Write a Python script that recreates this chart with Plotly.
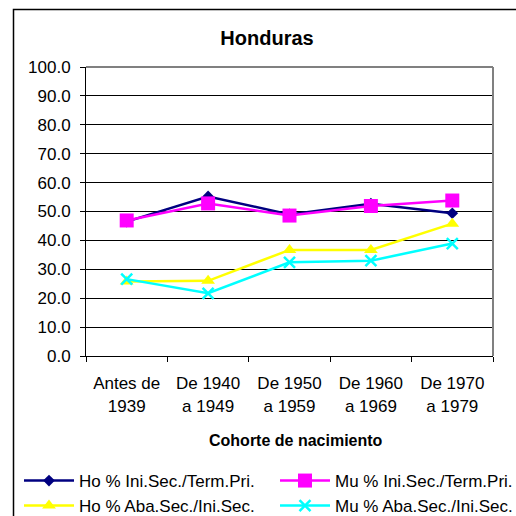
import plotly.graph_objects as go

categories = ["Antes de<br>1939", "De 1940<br>a 1949", "De 1950<br>a 1959", "De 1960<br>a 1969", "De 1970<br>a 1979"]
ho_ini = [46.5, 55.2, 49.0, 52.7, 49.4]
mu_ini = [46.9, 52.8, 48.6, 51.9, 53.8]
ho_aba = [25.8, 26.0, 36.7, 36.7, 45.8]
mu_aba = [26.6, 21.7, 32.4, 33.0, 38.9]
names = ["Ho % Ini.Sec./Term.Pri.", "Mu % Ini.Sec./Term.Pri.",
         "Ho % Aba.Sec./Ini.Sec.", "Mu % Aba.Sec./Ini.Sec."]
y_ticks = [0, 10, 20, 30, 40, 50, 60, 70, 80, 90, 100]

W, H = 516, 516
L, R, T, B = 86, 493, 67, 356

def px_x(p):
    return (p - L) / (R - L)

def px_y(p):
    return (B - p) / (B - T)

FONT = "Liberation Sans, Arial, sans-serif"
LW = 2.5

fig = go.Figure()
fig.add_trace(go.Scatter(x=categories, y=ho_ini, name=names[0], mode="lines+markers",
                         line=dict(color="#000080", width=LW),
                         marker=dict(symbol="diamond", size=9, color="#000080"),
                         legend="legend", showlegend=True))
fig.add_trace(go.Scatter(x=categories, y=ho_aba, name=names[2], mode="lines+markers",
                         line=dict(color="#FFFF00", width=LW),
                         marker=dict(symbol="triangle-up", size=12, color="#FFFF00"),
                         legend="legend3", showlegend=True))
fig.add_trace(go.Scatter(x=categories, y=mu_aba, name=names[3], mode="lines+markers",
                         line=dict(color="#00FFFF", width=LW),
                         marker=dict(symbol="x-thin", size=11, color="#00FFFF",
                                     line=dict(color="#00FFFF", width=2.5)),
                         legend="legend4", showlegend=True))
fig.add_trace(go.Scatter(x=categories, y=mu_ini, name=names[1], mode="lines+markers",
                         line=dict(color="#FF00FF", width=LW),
                         marker=dict(symbol="square", size=14, color="#FF00FF"),
                         legend="legend2", showlegend=True))

leg_common = dict(font=dict(family=FONT, size=17, color="black"), bgcolor="rgba(0,0,0,0)",
                  xanchor="left", yanchor="middle", borderwidth=0, itemwidth=50)
fig.update_layout(
    width=W, height=H, showlegend=True,
    margin=dict(l=L, r=W - R, t=T, b=H - B, pad=0, autoexpand=False),
    paper_bgcolor="white", plot_bgcolor="white",
    title=dict(text="<b>Honduras</b>", x=267 / W, xref="container", xanchor="center",
               y=1 - 38 / H, yref="container", yanchor="middle",
               font=dict(family=FONT, size=20, color="black")),
    xaxis=dict(type="category", showline=True, linecolor="black", linewidth=1,
               ticks="outside", ticklen=5, tickcolor="black", tickson="boundaries",
               ticklabelstandoff=12,
               showgrid=False, tickfont=dict(family=FONT, size=17, color="black"),
               range=[-0.5, 4.5]),
    yaxis=dict(range=[0, 100], tickvals=y_ticks, tickformat=".1f", showline=True,
               linecolor="black", linewidth=1, ticks="outside", ticklen=5, tickcolor="black",
               ticklabelstandoff=6,
               showgrid=True, gridcolor="black", gridwidth=1, zeroline=False,
               tickfont=dict(family=FONT, size=17, color="black")),
    legend=dict(x=px_x(19), y=px_y(481), **leg_common),
    legend2=dict(x=px_x(275), y=px_y(481), **leg_common),
    legend3=dict(x=px_x(19), y=px_y(506), **leg_common),
    legend4=dict(x=px_x(275), y=px_y(506), **leg_common),
    shapes=[
        dict(type="rect", xref="paper", yref="paper", x0=px_x(13.5), x1=px_x(560),
             y0=px_y(560), y1=px_y(9.5), line=dict(color="black", width=1.5)),
        dict(type="line", xref="paper", yref="paper", x0=0, x1=1, y0=1, y1=1,
             line=dict(color="#808080", width=2)),
        dict(type="line", xref="paper", yref="paper", x0=1, x1=1, y0=0, y1=1,
             line=dict(color="#808080", width=2)),
    ],
    annotations=[
        dict(text="<b>Cohorte de nacimiento</b>", xref="paper", yref="paper",
             x=px_x(296), y=px_y(440), xanchor="center", yanchor="middle",
             showarrow=False, font=dict(family=FONT, size=16, color="black")),
    ],
)

fig.write_html("out.html", config={"displayModeBar": False},
               post_script="document.body.style.margin='0px';document.body.style.overflow='hidden';")
